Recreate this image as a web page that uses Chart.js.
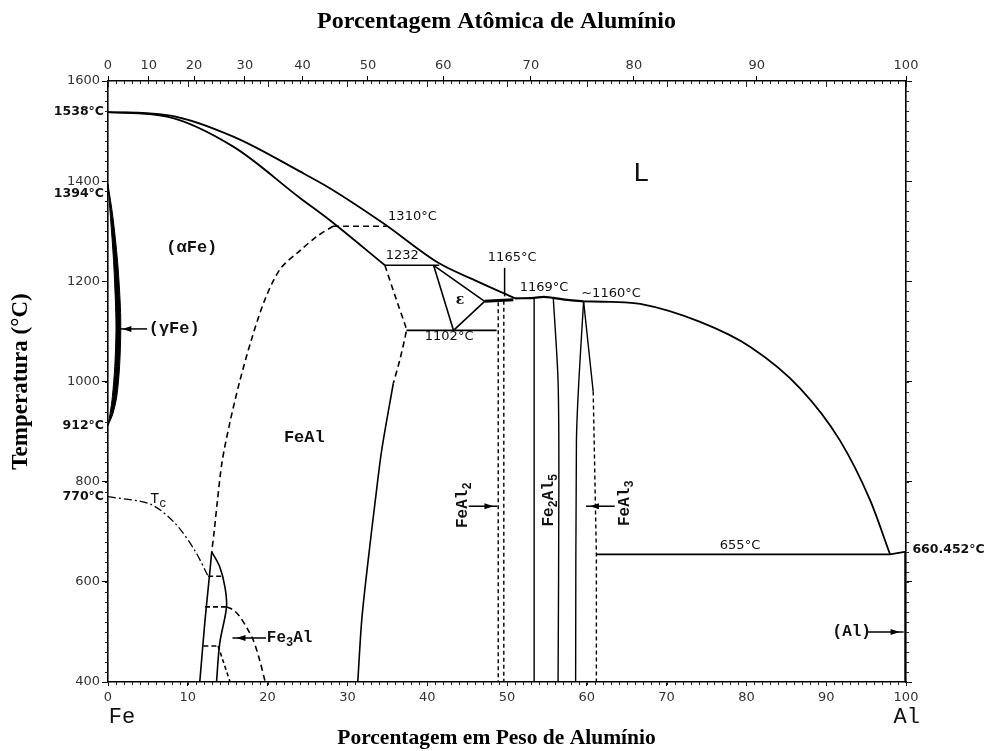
<!DOCTYPE html>
<html>
<head>
<meta charset="utf-8">
<script src="https://cdn.jsdelivr.net/npm/chart.js@4.4.0/dist/chart.umd.min.js"></script>
<style>
  html, body { margin: 0; padding: 0; background: #fff; }
  #wrap { width: 993px; height: 751px; }
</style>
</head>
<body>
<div id="wrap"><canvas id="c" width="993" height="751"></canvas></div>
<script>
// Fe–Al equilibrium diagram: composition in wt% Al, temperature in °C.

// Liquidus, Fe side down to the 1165 °C reaction
const liquidusFe = [[0,1538],[7.4,1532],[15.7,1489],[24.1,1419],[27.8,1386],[34.5,1316],[41.5,1236],[46,1202],[51,1166]];
// Solidus of (αFe)
const solidusFe = [[0,1538],[7.4,1529],[15.7,1469],[24.1,1366],[27.8,1322],[34.7,1232]];
// Liquidus over the Fe2Al5 / FeAl3 maxima
const liquidusMid = [[51,1166],[53.4,1167],[54.6,1169],[55.8,1167],[57.6,1163],[59.6,1160]];
// Liquidus, Al side down to the eutectic
const liquidusAl = [[59.6,1160],[63,1159],[66.7,1155],[74.2,1119],[80.5,1069],[86.7,987],[91.7,883],[95.5,763],[98,655]];

// Invariant lines
const line1310 = [[28.2,1310],[34.9,1310]];
const line1232 = [[34.7,1232],[41.5,1232]];
const line1102 = [[37.4,1102],[48.7,1102]];
const line1160 = [[47.2,1160],[50.8,1163]];
const line655 = [[61.2,655],[98,655],[100,660.452]];

// ε phase field
const epsLeft = [[40.8,1232],[43.3,1102]];
const epsUpper = [[40.8,1232],[47.2,1160]];
const epsLower = [[43.3,1102],[47.2,1160]];

// FeAl (B2) boundary towards the Al side
const fealEdgeDashed = [[34.7,1232],[36.1,1165],[37.3,1110],[37.4,1102],[36.6,1045],[35.75,996]];
const fealEdgeSolid = [[35.75,996],[34.3,863],[33.5,763],[32.6,643],[31.8,524],[31.3,400]];
// A2 / B2 ordering line
const orderA2B2 = [[28.2,1310],[26.2,1290],[24.1,1262],[21.6,1225],[19.7,1165],[18.0,1085],[16.5,1000],[15.3,920],[14.3,840],[13.7,760],[13.3,700],[13.0,660]];
// Curie temperature
const curieTc = [[0,770],[5.3,755],[8.4,717],[10.9,662],[12.55,611]];

// Fe3Al (D03) dome
const fe3alLeft = [[11.5,400],[12.15,522],[12.7,610],[13.0,660]];
const fe3alRight = [[13.0,660],[14.0,630],[14.65,590],[14.85,550],[14.0,477],[13.6,400]];
const fe3alTie611 = [[12.55,611],[14.35,611]];
const fe3alTie550 = [[12.15,550],[14.85,550]];
const fe3alTie472 = [[11.95,472],[13.8,472]];
const fe3alD03 = [[13.8,472],[15.3,400]];
const fe3alOuter = [[14.85,550],[15.7,544],[16.5,531],[17.4,508],[18.2,484],[19.0,444],[19.7,400]];

// Intermetallic fields
const feal2Left = [[48.9,1158],[48.9,400]];
const feal2Right = [[49.6,1161],[49.6,400]];
const fe2al5Left = [[53.4,1167],[53.4,400]];
const fe2al5Right = [[55.8,1167],[56.4,1000],[56.5,800],[56.4,400]];
const feal3Left = [[59.6,1160],[59.0,1000],[58.7,880],[58.6,400]];
const feal3RightSolid = [[59.6,1160],[60.8,980]];
const feal3RightDashed = [[60.8,980],[61.2,655],[61.2,400]];

// (Al) terminal solution
const alSolid = [[100,660.452],[100,400]];

// (γFe) loop, outer edge then inner edge
const gammaOuter = [[0,1394],[0.6,1330],[1.2,1240],[1.55,1150],[1.6,1100],[1.45,1030],[1.1,970],[0.6,935],[0,912]];
const gammaInner = [[0,1394],[0.3,1330],[0.7,1240],[0.95,1150],[1.0,1100],[0.85,1030],[0.55,970],[0.25,935],[0,912]];

// Axis ticks
const weightTicks = [0,10,20,30,40,50,60,70,80,90,100];
const atomicTicks = [0,10,20,30,40,50,60,70,80,90,100];
const tempTicks = [400,600,800,1000,1200,1400,1600];

const M_AL = 26.982, M_FE = 55.845;
const wtFromAt = a => a === 0 ? 0 : 100 * a * M_AL / (a * M_AL + (100 - a) * M_FE);

const pts = arr => arr.map(([x, y]) => ({ x, y }));
const DASH = [6, 4];
function curve(data, extra) {
  return Object.assign({
    data: pts(data), showLine: true, borderColor: '#000', borderWidth: 1.6,
    pointRadius: 0, pointHoverRadius: 0, tension: 0.35, fill: false,
    xAxisID: 'x', yAxisID: 'y'
  }, extra || {});
}
const straight = (data, extra) => curve(data, Object.assign({ tension: 0 }, extra || {}));
const smooth = (data, extra) => curve(data, Object.assign({ cubicInterpolationMode: 'monotone' }, extra || {}));

const datasets = [
  smooth(liquidusFe, { borderWidth: 1.8 }),
  smooth(solidusFe, { borderWidth: 1.8 }),
  smooth(liquidusMid, { borderWidth: 2.2 }),
  smooth(liquidusAl, { borderWidth: 1.8 }),
  straight(line1310, { borderDash: DASH }),
  straight(line1232),
  straight(line1102),
  straight(line1160, { borderWidth: 3 }),
  straight(line655, { borderWidth: 1.8 }),
  straight(epsLeft), straight(epsUpper), straight(epsLower),
  curve(fealEdgeDashed, { borderDash: DASH, tension: 0.2 }),
  curve(fealEdgeSolid, { tension: 0.3 }),
  curve(orderA2B2, { borderDash: DASH, tension: 0.3 }),
  curve(curieTc, { borderDash: [8, 3, 2, 3], borderWidth: 1.3, tension: 0.3 }),
  curve(fe3alLeft, { tension: 0.3 }),
  curve(fe3alRight, { tension: 0.35 }),
  straight(fe3alTie611, { borderDash: [5, 3] }),
  straight(fe3alTie550, { borderDash: [5, 3] }),
  straight(fe3alTie472, { borderDash: [5, 3] }),
  straight(fe3alD03, { borderDash: [4, 3] }),
  curve(fe3alOuter, { borderDash: DASH, tension: 0.3 }),
  straight(feal2Left, { borderDash: [4, 3], borderWidth: 1.4 }),
  straight(feal2Right, { borderDash: [4, 3], borderWidth: 1.4 }),
  straight(fe2al5Left, { borderWidth: 1.4 }),
  curve(fe2al5Right, { borderWidth: 1.4, tension: 0.3 }),
  curve(feal3Left, { borderWidth: 1.4, tension: 0.3 }),
  straight(feal3RightSolid, { borderWidth: 1.4 }),
  straight(feal3RightDashed, { borderDash: [4, 3], borderWidth: 1.4 }),
  straight(alSolid, { borderWidth: 3.5 }),
  curve(gammaOuter.concat(gammaInner.slice().reverse()), {
    borderWidth: 1, fill: 'shape', backgroundColor: '#000', tension: 0.3
  })
];

// Leader arrows: [from wt, from T, to wt, to T, arrow head]
const arrows = [
  [4.9, 1105, 1.3, 1105, true],
  [19.8, 488, 15.6, 488, true],
  [45.2, 751, 48.8, 751, true],
  [63.5, 751, 59.9, 751, true],
  [95.0, 500, 99.7, 500, true],
  [49.7, 1227, 49.7, 1170, false]
];

const NUM = '13px "DejaVu Sans"';
const NUM_B = 'bold 12.5px "DejaVu Sans"';
const PH = 'bold 16px "Liberation Mono"';
const PH_SUB = 'bold 12px "Liberation Mono"';

// Text notes: parts ([text, subscript?]), wt, T, font, alignment, rotation, pixel nudges
const notes = [
  { parts: [['1538°C', 0]], wt: 0, t: 1538, font: NUM_B, align: 'right', dx: -4 },
  { parts: [['1394°C', 0]], wt: 0, t: 1394, font: NUM_B, align: 'right', dx: -4, dy: 10 },
  { parts: [['912°C', 0]], wt: 0, t: 912, font: NUM_B, align: 'right', dx: -4 },
  { parts: [['770°C', 0]], wt: 0, t: 770, font: NUM_B, align: 'right', dx: -4 },
  { parts: [['(αFe)', 0]], wt: 10.5, t: 1268, font: 'bold 17px "Liberation Mono"', align: 'center' },
  { parts: [['(γFe)', 0]], wt: 5.1, t: 1105, font: 'bold 17px "Liberation Mono"', align: 'left' },
  { parts: [['FeAl', 0]], wt: 24.6, t: 888, font: 'bold 17px "Liberation Mono"', align: 'center' },
  { parts: [['T', 0], ['c', 1]], wt: 6.3, t: 765, font: '15px "Liberation Mono"', sub: '12px "Liberation Mono"', align: 'center' },
  { parts: [['Fe', 0], ['3', 1], ['Al', 0]], wt: 19.9, t: 488, font: PH, sub: PH_SUB, align: 'left' },
  { parts: [['1310°C', 0]], wt: 35.1, t: 1330, font: NUM, align: 'left' },
  { parts: [['1232', 0]], wt: 34.8, t: 1251, font: NUM, align: 'left' },
  { parts: [['ε', 0]], wt: 44.1, t: 1162, font: 'bold 14px "DejaVu Serif"', align: 'center' },
  { parts: [['1165°C', 0]], wt: 47.6, t: 1248, font: NUM, align: 'left' },
  { parts: [['1169°C', 0]], wt: 51.6, t: 1187, font: NUM, align: 'left' },
  { parts: [['~1160°C', 0]], wt: 59.3, t: 1176, font: NUM, align: 'left' },
  { parts: [['1102°C', 0]], wt: 39.7, t: 1089, font: NUM, align: 'left' },
  { parts: [['L', 0]], wt: 66.8, t: 1416, font: '28px "Liberation Mono"', align: 'center' },
  { parts: [['FeAl', 0], ['2', 1]], wt: 44.5, t: 753, font: PH, sub: PH_SUB, align: 'center', rot: true },
  { parts: [['Fe', 0], ['2', 1], ['Al', 0], ['5', 1]], wt: 55.2, t: 763, font: PH, sub: PH_SUB, align: 'center', rot: true },
  { parts: [['FeAl', 0], ['3', 1]], wt: 64.8, t: 757, font: PH, sub: PH_SUB, align: 'center', rot: true },
  { parts: [['655°C', 0]], wt: 79.2, t: 673, font: NUM, align: 'center' },
  { parts: [['660.452°C', 0]], wt: 100.8, t: 665, font: NUM_B, align: 'left' },
  { parts: [['(Al)', 0]], wt: 93.2, t: 500, font: 'bold 16px "Liberation Mono"', align: 'center' },
  { parts: [['Fe', 0]], wt: 1.75, t: 330, font: '22px "Liberation Mono"', align: 'center' },
  { parts: [['Al', 0]], wt: 100.1, t: 330, font: '22px "Liberation Mono"', align: 'center' }
];

function drawParts(ctx, parts, font, sub, x, y, align) {
  ctx.textBaseline = 'middle';
  ctx.textAlign = 'left';
  const widths = parts.map(([s, isSub]) => { ctx.font = isSub ? sub : font; return ctx.measureText(s).width; });
  const total = widths.reduce((a, b) => a + b, 0);
  let cx = align === 'center' ? x - total / 2 : align === 'right' ? x - total : x;
  parts.forEach(([s, isSub], i) => {
    ctx.font = isSub ? sub : font;
    ctx.fillText(s, cx, y + (isSub ? 5 : 0));
    cx += widths[i];
  });
}

const notesPlugin = {
  id: 'phaseNotes',
  afterDatasetsDraw(chart) {
    const { ctx } = chart;
    const xs = chart.scales.x, ys = chart.scales.y;
    const X = v => xs.getPixelForValue(v), Y = v => ys.getPixelForValue(v);
    ctx.save();
    ctx.strokeStyle = '#000';
    ctx.fillStyle = '#000';
    ctx.lineWidth = 1.5;
    for (const [x0, t0, x1, t1, head] of arrows) {
      const ax = X(x0), ay = Y(t0), bx = X(x1), by = Y(t1);
      ctx.beginPath(); ctx.moveTo(ax, ay); ctx.lineTo(bx, by); ctx.stroke();
      if (head) {
        const ang = Math.atan2(by - ay, bx - ax);
        const hx = bx - 4 * Math.cos(ang), hy = by - 4 * Math.sin(ang);
        ctx.beginPath();
        ctx.moveTo(hx, hy);
        ctx.lineTo(hx - 9 * Math.cos(ang) + 3 * Math.sin(ang), hy - 9 * Math.sin(ang) - 3 * Math.cos(ang));
        ctx.lineTo(hx - 9 * Math.cos(ang) - 3 * Math.sin(ang), hy - 9 * Math.sin(ang) + 3 * Math.cos(ang));
        ctx.closePath(); ctx.fill();
      }
    }
    ctx.fillStyle = '#111';
    for (const n of notes) {
      const px = X(n.wt) + (n.dx || 0), py = Y(n.t) + (n.dy || 0);
      if (n.rot) {
        ctx.save();
        ctx.translate(px, py);
        ctx.rotate(-Math.PI / 2);
        drawParts(ctx, n.parts, n.font, n.sub || n.font, 0, 0, n.align);
        ctx.restore();
      } else {
        drawParts(ctx, n.parts, n.font, n.sub || n.font, px, py, n.align);
      }
    }
    ctx.restore();
  }
};

// Small intermediate ticks on all four frame edges
const minorTicksPlugin = {
  id: 'minorTicks',
  afterDraw(chart) {
    const { ctx, chartArea: a } = chart;
    const xs = chart.scales.x, ys = chart.scales.y;
    ctx.save();
    ctx.strokeStyle = '#222';
    ctx.lineWidth = 1;
    ctx.beginPath();
    for (let w = 0; w <= 100; w += 1) {
      const px = Math.round(xs.getPixelForValue(w)) + 0.5;
      ctx.moveTo(px, a.bottom); ctx.lineTo(px, a.bottom + 3);
      ctx.moveTo(px, a.top); ctx.lineTo(px, a.top + (w % 10 === 0 ? 6 : 3));
    }
    for (let t = 400; t <= 1600; t += 20) {
      const py = Math.round(ys.getPixelForValue(t)) + 0.5;
      ctx.moveTo(a.left - 3, py); ctx.lineTo(a.left, py);
      ctx.moveTo(a.right, py); ctx.lineTo(a.right + 3, py);
    }
    ctx.stroke();
    ctx.restore();
  }
};

// Frame layout: plot area spans x 108–906, y 81–682 of the 993×751 canvas
const TOP_TITLE = { family: '"Liberation Serif"', size: 24, weight: 'bold', lineHeight: 1.2 };
const TOP_PAD = { top: 7, bottom: 4 };
const BOTTOM_TITLE = { family: '"Liberation Serif"', size: 21.5, weight: 'bold', lineHeight: 1.2 };
const BOTTOM_PAD = { top: 12, bottom: 0 };
const SIDE_TITLE = { family: '"Liberation Serif"', size: 23, weight: 'bold', lineHeight: 1.2 };
const topTitleH = TOP_TITLE.size * 1.2 + TOP_PAD.top + TOP_PAD.bottom;
const bottomTitleH = BOTTOM_TITLE.size * 1.2 + BOTTOM_PAD.top + BOTTOM_PAD.bottom;
const TICK_FONT = { family: '"DejaVu Sans"', size: 13 };
const frame = { display: true, color: '#000', width: 1.6 };

new Chart(document.getElementById('c'), {
  type: 'scatter',
  data: { datasets },
  options: {
    responsive: false,
    animation: false,
    events: [],
    layout: { padding: 0 },
    plugins: {
      legend: { display: false },
      tooltip: { enabled: false },
      title: {
        display: true, text: 'Porcentagem Atômica de Alumínio', color: '#000',
        font: TOP_TITLE, padding: TOP_PAD
      },
      subtitle: {
        display: true, position: 'bottom', text: 'Porcentagem em Peso de Alumínio', color: '#000',
        font: BOTTOM_TITLE, padding: BOTTOM_PAD
      }
    },
    scales: {
      x: {
        type: 'linear', position: 'bottom', min: 0, max: 100,
        afterBuildTicks: s => { s.ticks = weightTicks.map(v => ({ value: v })); },
        ticks: { autoSkip: false, maxRotation: 0, color: '#333', font: TICK_FONT, padding: 4, callback: v => String(v) },
        grid: { drawOnChartArea: false, tickLength: 4, color: '#000' },
        border: frame,
        afterFit: s => { s.height = 69 - bottomTitleH; }
      },
      xTop: {
        type: 'linear', position: 'top', min: 0, max: 100,
        afterBuildTicks: s => { s.ticks = atomicTicks.map(a => ({ value: wtFromAt(a) })); },
        ticks: { autoSkip: false, maxRotation: 0, color: '#333', font: TICK_FONT, padding: 3,
          callback: (v, i) => String(atomicTicks[i]) },
        grid: { drawOnChartArea: false, tickLength: 5, color: '#000' },
        border: frame,
        afterFit: s => { s.height = 81 - topTitleH; }
      },
      y: {
        type: 'linear', position: 'left', min: 400, max: 1600,
        afterBuildTicks: s => { s.ticks = tempTicks.map(v => ({ value: v })); },
        ticks: { autoSkip: false, color: '#333', font: TICK_FONT, padding: 2, callback: v => String(v) },
        grid: { drawOnChartArea: false, tickLength: 6, color: '#000' },
        border: frame,
        title: { display: true, text: 'Temperatura (°C)', color: '#000', font: SIDE_TITLE, padding: { top: 7, bottom: 0 } },
        afterFit: s => { s.width = 108; }
      },
      yRight: {
        type: 'linear', position: 'right', min: 400, max: 1600,
        afterBuildTicks: s => { s.ticks = tempTicks.map(v => ({ value: v })); },
        ticks: { display: false },
        grid: { drawOnChartArea: false, tickLength: 6, color: '#000' },
        border: frame,
        afterFit: s => { s.width = 87; }
      }
    }
  },
  plugins: [notesPlugin, minorTicksPlugin]
});
</script>
</body>
</html>
